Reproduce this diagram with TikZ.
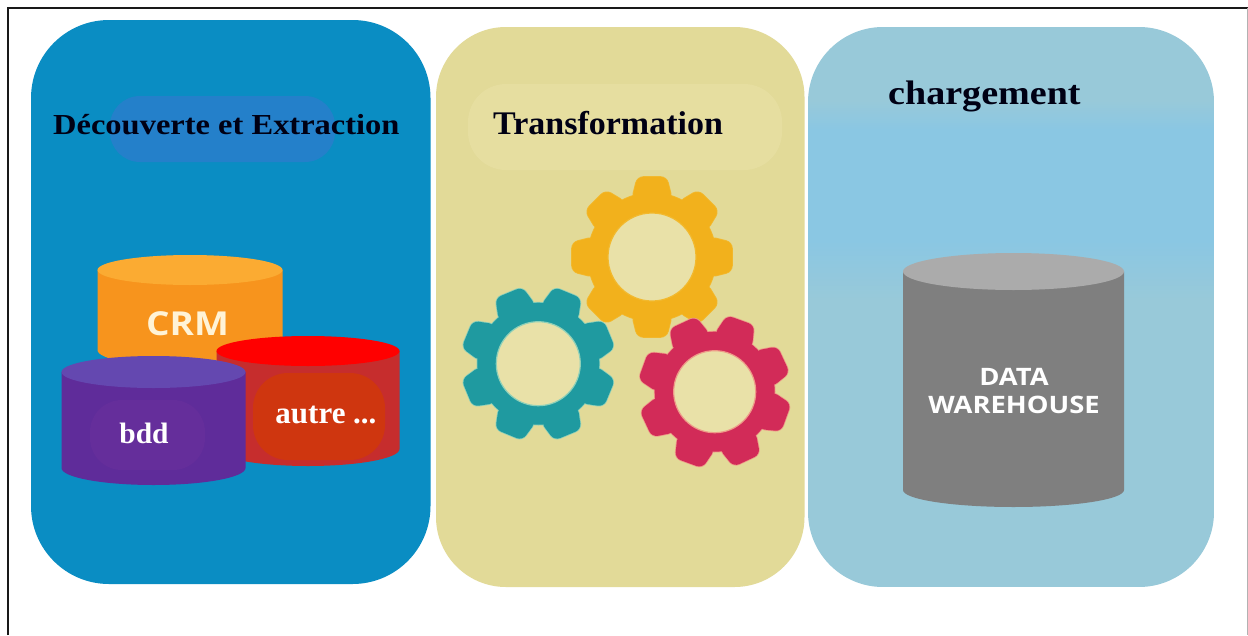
\documentclass[tikz,border=0pt]{standalone}
\usepackage{fontspec}
\setmainfont{Liberation Serif}
\newfontfamily\labelsans{Open Sans}
\definecolor{panelblue}{HTML}{0A8DC3}
\definecolor{blobblue}{HTML}{2480CA}
\definecolor{panelsand}{HTML}{E2DA98}
\definecolor{blobsand}{HTML}{E6DEA0}
\definecolor{holesand}{HTML}{E9E1A8}
\definecolor{panelsky}{HTML}{98C9D9}
\definecolor{bandsky}{HTML}{8AC7E3}
\definecolor{CylOrange}{HTML}{F7941D}
\definecolor{CylOrangeTop}{HTML}{FBAB32}
\definecolor{CylRed}{HTML}{C62D2D}
\definecolor{CylRedIn}{HTML}{CF360F}
\definecolor{CylPurple}{HTML}{5F2C9A}
\definecolor{CylPurpleIn}{HTML}{652E9B}
\definecolor{CylPurpleTop}{HTML}{6448B0}
\definecolor{CylGrey}{HTML}{7F7F7F}
\definecolor{CylGreyTop}{HTML}{ABABAB}
\definecolor{CrmText}{HTML}{FFF3D6}
\definecolor{GearYellow}{HTML}{F2B11C}
\definecolor{GearYellowHalo}{HTML}{F2B92E}
\definecolor{GearTeal}{HTML}{1F9AA0}
\definecolor{GearTealHalo}{HTML}{8FD0B8}
\definecolor{GearRed}{HTML}{D22B58}
\definecolor{GearRedHalo}{HTML}{EE9A88}
\newcommand{\sizedtext}[1]{\fontsize{#1}{#1}\selectfont}
\newcommand{\drawcyl}[7]{% cx, rx, cy, ry, bottom side y, body, top
  \fill[#6] (#1-#2,#3) -- (#1-#2,#5) arc[start angle=180,end angle=0,x radius=#2,y radius=17] -- (#1+#2,#3) -- cycle;
  \fill[#7] (#1,#3) ellipse[x radius=#2,y radius=#4];
}
\newcommand{\drawgear}[8]{% cx, cy, outer, body, hole, start angle, colour, halo
  \begin{scope}[shift={(#1,#2)}]
    \foreach \a in {0,45,...,315}{
      \filldraw[#8,line width=1.6pt,rotate=#6+\a,rounded corners=6pt]
        (#4-6,-20) -- (#3,-14.5) -- (#3,14.5) -- (#4-6,20) -- cycle;
    }
    \filldraw[#8,line width=1.6pt] (0,0) circle[radius=#4];
    \foreach \a in {0,45,...,315}{
      \fill[#7,rotate=#6+\a,rounded corners=6pt]
        (#4-6,-20) -- (#3,-14.5) -- (#3,14.5) -- (#4-6,20) -- cycle;
    }
    \fill[#7] (0,0) circle[radius=#4];
    \filldraw[fill=holesand,draw=#8,line width=1.2pt] (0,0) circle[radius=#5];
  \end{scope}
}
\tikzset{
  paneltitle/.style={anchor=base west,inner sep=0pt,text=black!92!blue,font=\bfseries},
  cyllabel/.style={anchor=base,inner sep=0pt},
}
\begin{document}
\begin{tikzpicture}[x=1pt,y=-1pt]
\useasboundingbox (0,0) rectangle (1248,635);
\fill[white] (0,0) rectangle (1248,635);
% frame
\draw[black!90,line width=2pt] (7.5,635) -- (7.5,8) -- (1248,8);
\draw[black!30,line width=1pt] (1247,8) -- (1247,635);
% panels
\fill[panelblue,rounded corners=78pt] (31,20) rectangle (430.5,584);
\fill[blobblue,rounded corners=30pt] (110,96) rectangle (335,162);
\fill[panelsand,rounded corners=70pt] (436,27) rectangle (804.5,587);
\fill[blobsand,rounded corners=38pt] (468,84) rectangle (782,170);
\begin{scope}
  \clip[rounded corners=75pt] (808,27) rectangle (1214,587);
  \fill[panelsky] (808,27) rectangle (1214,587);
  \shade[top color=panelsky,bottom color=bandsky] (808,100) rectangle (1214,130);
  \fill[bandsky] (808,129.5) rectangle (1214,240.5);
  \shade[top color=bandsky,bottom color=panelsky] (808,240) rectangle (1214,300);
\end{scope}
% titles
\node[paneltitle] (t1) at (53,134) {\sizedtext{29}\scalebox{1.12}[1]{Découverte et Extraction}};
\node[paneltitle] (t2) at (493,134) {\sizedtext{33}\scalebox{1.03}[1]{Transformation}};
\node[paneltitle] (t3) at (888,104) {\sizedtext{34}\scalebox{1.12}[1]{chargement}};
% source cylinders
\drawcyl{190}{92.5}{270}{15}{350}{CylOrange}{CylOrangeTop}
\drawcyl{308}{91.5}{351}{15}{449}{CylRed}{red}
\fill[CylRedIn,rounded corners=35pt] (253,373) rectangle (385,460);
\drawcyl{153.5}{92}{372}{16}{468}{CylPurple}{CylPurpleTop}
\fill[CylPurpleIn,rounded corners=32pt] (90,400) rectangle (205,470);
\node[cyllabel,text=CrmText] (crm) at (187.5,335) {\labelsans\bfseries\sizedtext{33}\scalebox{1.12}[1]{CRM}};
\node[cyllabel,text=white,font=\bfseries] (autre) at (326,423) {\sizedtext{31}autre ...};
\node[cyllabel,text=white,font=\bfseries] (bdd) at (144,443) {\sizedtext{29.5}bdd};
% gears
\drawgear{652}{257}{80}{64}{44}{0}{GearYellow}{GearYellowHalo}
\drawgear{538.3}{363.7}{77}{61}{42}{22.5}{GearTeal}{GearTealHalo}
\drawgear{714.7}{391.7}{76}{60}{41}{70}{GearRed}{GearRedHalo}
% warehouse
\drawcyl{1013.5}{110.5}{271.5}{18.5}{490}{CylGrey}{CylGreyTop}
\node[cyllabel,text=white] (dw1) at (1014,385) {\labelsans\bfseries\sizedtext{24}\scalebox{1.14}[1]{DATA}};
\node[cyllabel,text=white] (dw2) at (1014,413) {\labelsans\bfseries\sizedtext{24}\scalebox{1.14}[1]{WAREHOUSE}};
\end{tikzpicture}
\end{document}
